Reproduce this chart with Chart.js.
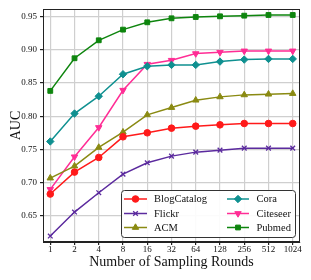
<!DOCTYPE html>
<html>
<head>
<meta charset="utf-8">
<script src="https://cdn.jsdelivr.net/npm/chart.js@4/dist/chart.umd.min.js"></script>
<style>
html,body{margin:0;padding:0;background:#fff;}
#wrap{position:relative;width:311px;height:280px;}
</style>
</head>
<body>
<div id="wrap"><canvas id="c" width="311" height="280"></canvas></div>
<script>
const categories = ['1','2','4','8','16','32','64','128','256','512','1024'];
const blogCatalog = [0.683,0.716,0.738,0.769,0.775,0.782,0.785,0.787,0.789,0.789,0.789];
const flickr      = [0.620,0.656,0.685,0.713,0.730,0.740,0.746,0.749,0.752,0.752,0.752];
const acm         = [0.707,0.725,0.753,0.776,0.802,0.813,0.824,0.829,0.832,0.833,0.834];
const cora        = [0.762,0.804,0.830,0.863,0.875,0.877,0.877,0.882,0.885,0.886,0.886];
const citeseer    = [0.690,0.739,0.783,0.839,0.878,0.884,0.894,0.896,0.898,0.898,0.898];
const pubmed      = [0.838,0.887,0.914,0.930,0.941,0.947,0.949,0.950,0.951,0.952,0.952];
const yTicks = [0.65,0.70,0.75,0.80,0.85,0.90,0.95];

const FONT = "'Liberation Serif','DejaVu Serif',serif";
const series = [
  {label:'BlogCatalog', data:blogCatalog, color:'#ff1a1a', style:'circle', r:3.3, col:0, row:0},
  {label:'Flickr', data:flickr, color:'#5b2a9e', style:'crossRot', r:3.3, col:0, row:1},
  {label:'ACM', data:acm, color:'#8a8a12', style:'triangle', r:3.7, col:0, row:2},
  {label:'Cora', data:cora, color:'#0f9090', style:'rectRot', r:3.7, col:1, row:0},
  {label:'Citeseer', data:citeseer, color:'#ff2d95', style:'triangle', rot:180, r:3.7, col:1, row:1},
  {label:'Pubmed', data:pubmed, color:'#0e850e', style:'rect', r:3.4, col:1, row:2}
];

const datasets = series.map(s => ({
  label: s.label,
  data: s.data.map((v,i)=>({x:i,y:v})),
  borderColor: s.color,
  backgroundColor: s.color,
  borderWidth: 1.5,
  pointStyle: s.style,
  pointRotation: s.rot || 0,
  pointRadius: s.r,
  pointBorderWidth: s.style==='crossRot'?1.3:1,
  pointBackgroundColor: s.color,
  pointBorderColor: s.color,
  tension: 0
}));

const framePlugin = {
  id:'frame',
  afterDraw(chart){
    const {ctx, chartArea:a} = chart;
    ctx.save();
    ctx.strokeStyle='#222';
    ctx.lineWidth=1;
    ctx.strokeRect(a.left+0.5, a.top+0.5, a.right-a.left-1, a.bottom-a.top-1);
    // legend
    const lx=121.5, ly=190.5, lw=174, lh=47, rad=3;
    ctx.beginPath();
    ctx.moveTo(lx+rad,ly);
    ctx.lineTo(lx+lw-rad,ly); ctx.quadraticCurveTo(lx+lw,ly,lx+lw,ly+rad);
    ctx.lineTo(lx+lw,ly+lh-rad); ctx.quadraticCurveTo(lx+lw,ly+lh,lx+lw-rad,ly+lh);
    ctx.lineTo(lx+rad,ly+lh); ctx.quadraticCurveTo(lx,ly+lh,lx,ly+lh-rad);
    ctx.lineTo(lx,ly+rad); ctx.quadraticCurveTo(lx,ly,lx+rad,ly);
    ctx.closePath();
    ctx.fillStyle='rgba(255,255,255,0.9)';
    ctx.fill();
    ctx.strokeStyle='#333';
    ctx.lineWidth=1;
    ctx.stroke();
    const colX=[{l0:124,l1:147,m:135.5,t:154},{l0:227,l1:249,m:238,t:256.5}];
    const rowY=[199,213.5,227.5];
    ctx.font = "10.5px " + FONT;
    ctx.textBaseline='middle';
    ctx.textAlign='left';
    series.forEach(s=>{
      const c=colX[s.col], y=rowY[s.row];
      ctx.strokeStyle=s.color; ctx.lineWidth=1.5;
      ctx.beginPath(); ctx.moveTo(c.l0,y); ctx.lineTo(c.l1,y); ctx.stroke();
      ctx.fillStyle=s.color; ctx.strokeStyle=s.color;
      ctx.lineWidth = s.style==='crossRot'?1.3:1;
      Chart.helpers.drawPoint(ctx,{pointStyle:s.style,rotation:s.rot||0,radius:s.r,borderWidth:1},c.m,y);
      ctx.fillStyle='#111';
      ctx.fillText(s.label,c.t,y+0.5);
    });
    ctx.restore();
  }
};

new Chart(document.getElementById('c'), {
  type:'line',
  data:{datasets},
  options:{
    responsive:false,
    animation:false,
    layout:{padding:{top:9,right:11,left:8,bottom:9}},
    plugins:{legend:{display:false}, tooltip:{enabled:false}},
    scales:{
      x:{
        type:'linear', min:-0.3, max:10.3,
        afterFit(s){ s.height=29; },
        afterBuildTicks(s){ s.ticks = categories.map((_,i)=>({value:i})); },
        ticks:{
          callback:(v)=>categories[v],
          font:{family:FONT,size:9,lineHeight:1}, color:'#111',
          maxRotation:0, autoSkip:false, padding:0
        },
        grid:{color:'#cfcfcf', lineWidth:1.2, tickLength:3, tickColor:'#222', drawTicks:true},
        border:{display:true,color:'#222',width:1},
        title:{display:true,text:'Number of Sampling Rounds',font:{family:FONT,size:14,lineHeight:1.2},color:'#111',padding:{top:0,bottom:0}}
      },
      y:{
        min:0.611, max:0.961,
        afterFit(s){ s.width=35; },
        afterBuildTicks(s){ s.ticks = yTicks.map(v=>({value:v})); },
        ticks:{
          callback:(v)=>v.toFixed(2),
          font:{family:FONT,size:9}, color:'#111', padding:3
        },
        grid:{color:'#cfcfcf', lineWidth:1.2, tickLength:3, tickColor:'#222', drawTicks:true},
        border:{display:true,color:'#222',width:1},
        title:{display:true,text:'AUC',font:{family:FONT,size:14},color:'#111',padding:{top:0,bottom:0}}
      }
    }
  },
  plugins:[framePlugin]
});
</script>
</body>
</html>
